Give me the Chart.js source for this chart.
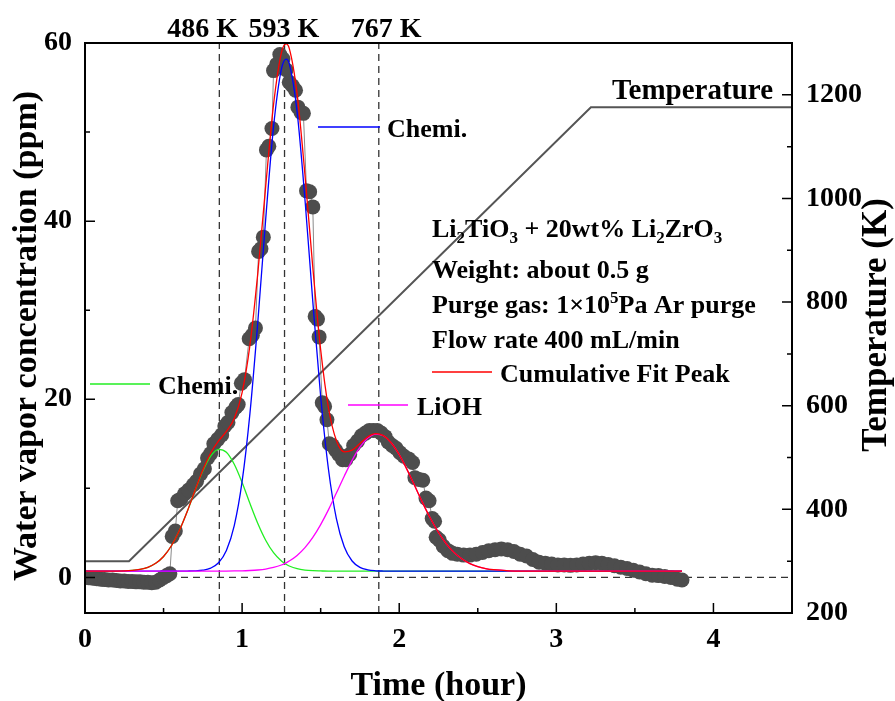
<!DOCTYPE html>
<html>
<head>
<meta charset="utf-8">
<script src="https://cdn.jsdelivr.net/npm/chart.js@4.4.0/dist/chart.umd.min.js"></script>
<style>
  html, body { margin: 0; padding: 0; background: #fff; }
  canvas { display: block; }
</style>
</head>
<body>
<canvas id="tpdChart" width="895" height="701"></canvas>
<script>
// measured water vapor (time in hour, concentration in ppm)
const measuredTime = [
  0, 0.025, 0.05, 0.075, 0.1, 0.125, 0.15, 0.175, 0.2, 0.225, 0.25, 0.275, 0.3, 0.325, 0.35, 0.375,
  0.4, 0.425, 0.45, 0.475, 0.5, 0.52, 0.54,
  0.555, 0.575, 0.59, 0.61, 0.635, 0.66, 0.69, 0.71, 0.735, 0.76, 0.78, 0.8, 0.82, 0.845, 0.87,
  0.89, 0.91, 0.935, 0.96, 0.975, 0.995, 1.015,
  1.045, 1.065, 1.085, 1.105, 1.12, 1.135, 1.155, 1.17, 1.19, 1.2, 1.22, 1.24, 1.26, 1.28, 1.3,
  1.32, 1.34, 1.355, 1.375, 1.39, 1.41, 1.43, 1.45, 1.465, 1.48, 1.49, 1.51, 1.525, 1.54, 1.555,
  1.575, 1.595, 1.615, 1.64, 1.66, 1.685, 1.71, 1.735, 1.76, 1.785, 1.81, 1.835, 1.86, 1.885,
  1.91, 1.93, 1.955, 1.98, 2.005, 2.03, 2.06, 2.085, 2.1, 2.125, 2.15, 2.17, 2.19, 2.21, 2.225,
  2.235, 2.255, 2.28, 2.31, 2.34, 2.37, 2.41, 2.45, 2.49, 2.53, 2.57, 2.61, 2.65, 2.69, 2.73,
  2.77, 2.81, 2.85, 2.89, 2.93, 2.97, 3.01, 3.05, 3.09, 3.13, 3.17, 3.21, 3.25, 3.29, 3.33,
  3.37, 3.41, 3.45, 3.49, 3.53, 3.57, 3.61, 3.65, 3.69, 3.73, 3.77, 3.8
];
const measuredPpm = [
  0.0, -0.05, -0.1, -0.15, -0.2, -0.25, -0.3, -0.3, -0.35, -0.4, -0.4, -0.45, -0.45, -0.5, -0.5, -0.55,
  -0.55, -0.6, -0.55, -0.3, 0.0, 0.2, 0.4,
  4.6, 5.2, 8.6, 8.8, 9.4, 9.8, 10.4, 10.8, 11.6, 12.2, 13.4, 13.9, 15.0, 15.5, 16.0,
  17.0, 17.4, 18.5, 19.1, 19.4, 21.8, 22.2,
  26.8, 27.2, 28.0, 36.6, 36.9, 38.2, 48.0, 48.4, 50.4, 56.9, 57.6, 58.7, 58.2, 57.0, 55.6,
  55.2, 54.7, 52.8, 52.2, 52.1, 43.4, 43.3, 41.6, 29.3, 29.0, 27.0, 19.6, 19.2, 17.7, 15.0,
  14.8, 14.3, 13.8, 13.2, 13.2, 13.8, 14.8, 15.3, 15.9, 16.2, 16.5, 16.5, 16.5, 16.2,
  15.8, 15.2, 14.8, 14.5, 14.0, 13.6, 13.3, 12.9, 11.2, 11.0, 10.9, 8.9, 8.6, 6.6, 6.3,
  4.5, 4.2, 3.5, 3.0, 2.7, 2.6, 2.5, 2.5, 2.6, 2.8, 3.0, 3.1, 3.2, 3.1, 2.9,
  2.6, 2.4, 2.0, 1.7, 1.6, 1.5, 1.4, 1.4, 1.35, 1.4, 1.5, 1.6, 1.65, 1.6, 1.45,
  1.3, 1.15, 1.0, 0.8, 0.6, 0.4, 0.25, 0.2, 0.1, 0.0, -0.2, -0.3
];

// fitted peaks, read along the same time grid
const fitTime = [
  0, 0.2, 0.3, 0.35, 0.4, 0.45, 0.5, 0.55, 0.6, 0.65, 0.7, 0.75, 0.8, 0.85, 0.9, 0.95,
  1.0, 1.05, 1.1, 1.15, 1.2, 1.25, 1.28, 1.3, 1.35, 1.4, 1.45, 1.5, 1.55, 1.6, 1.65, 1.7,
  1.75, 1.8, 1.85, 1.9, 1.95, 2.0, 2.05, 2.1, 2.15, 2.2, 2.25, 2.3, 2.35, 2.4, 2.45, 2.5,
  2.55, 2.6, 2.7, 2.8, 3.0, 3.8
];
const fitChemiLow = [
  0.7, 0.71, 0.78, 0.9, 1.13, 1.58, 2.35, 3.55, 5.24, 7.36, 9.72, 11.94, 13.62, 14.38, 14.05, 12.7,
  10.65, 8.29, 6.05, 4.17, 2.77, 1.84, 1.47, 1.28, 0.97, 0.82, 0.75, 0.72, 0.7, 0.7, 0.7, 0.7,
  0.7, 0.7, 0.7, 0.7, 0.7, 0.7, 0.7, 0.7, 0.7, 0.7, 0.7, 0.7, 0.7, 0.7, 0.7, 0.7,
  0.7, 0.7, 0.7, 0.7, 0.7, 0.7
];
const fitChemiHigh = [
  0.7, 0.7, 0.7, 0.7, 0.7, 0.7, 0.7, 0.7, 0.7, 0.71, 0.73, 0.81, 1.04, 1.64, 3.02, 5.81,
  10.77, 18.44, 28.69, 40.2, 50.58, 57.06, 58.2, 57.69, 52.27, 42.45, 30.96, 20.31, 12.08, 6.6, 3.44, 1.84,
  1.12, 0.84, 0.74, 0.71, 0.7, 0.7, 0.7, 0.7, 0.7, 0.7, 0.7, 0.7, 0.7, 0.7, 0.7, 0.7,
  0.7, 0.7, 0.7, 0.7, 0.7, 0.7
];
const fitLiOH = [
  0.7, 0.7, 0.7, 0.7, 0.7, 0.7, 0.7, 0.7, 0.7, 0.7, 0.7, 0.7, 0.7, 0.7, 0.71, 0.72,
  0.73, 0.77, 0.83, 0.93, 1.11, 1.39, 1.63, 1.83, 2.46, 3.34, 4.49, 5.93, 7.61, 9.47, 11.36, 13.14,
  14.62, 15.64, 16.09, 15.9, 15.09, 13.78, 12.1, 10.23, 8.34, 6.58, 5.04, 3.77, 2.78, 2.06, 1.55, 1.21,
  0.99, 0.86, 0.74, 0.71, 0.7, 0.7
];
const fitCumulative = [
  0.7, 0.71, 0.78, 0.9, 1.13, 1.58, 2.35, 3.55, 5.24, 7.37, 9.75, 12.05, 13.96, 15.32, 16.38, 17.83,
  20.75, 26.1, 34.17, 43.9, 53.07, 58.89, 59.9, 59.4, 54.3, 45.21, 34.8, 25.56, 18.99, 15.37, 14.1, 14.28,
  15.04, 15.78, 16.13, 15.91, 15.09, 13.78, 12.1, 10.23, 8.34, 6.58, 5.04, 3.77, 2.78, 2.06, 1.55, 1.21,
  0.99, 0.86, 0.74, 0.71, 0.7, 0.7
];

// furnace temperature program
const tempTime = [0, 0.28, 3.22, 4.5];
const tempKelvin = [300, 300, 1176, 1176];

const peakTimes = [0.855, 1.27, 1.87];
const peakLabels = ["486 K", "593 K", "767 K"];

const timeTicks = [0, 1, 2, 3, 4];
const timeMinor = [0.5, 1.5, 2.5, 3.5, 4.5];
const ppmTicks = [0, 20, 40, 60];
const ppmMinor = [10, 30, 50];
const kelvinTicks = [200, 400, 600, 800, 1000, 1200];
const kelvinMinor = [300, 500, 700, 900, 1100, 1300];

const FAMILY = '"Liberation Serif", "Times New Roman", serif';
const GREEN = "#22ee22";
const BLUE = "#0000ff";
const MAGENTA = "#ff00ff";
const RED = "#ff0000";
const DOT = "#4d4d4d";
const DASH = "#333333";

const toPoints = (xs, ys) => xs.map((x, i) => ({ x: x, y: ys[i] }));

function fitLine(values, color) {
  return {
    data: toPoints(fitTime, values),
    borderColor: color,
    borderWidth: 1.3,
    pointRadius: 0,
    cubicInterpolationMode: "monotone",
    yAxisID: "y",
  };
}

function dashLine(points) {
  return {
    data: points,
    borderColor: DASH,
    borderWidth: 1.3,
    borderDash: [7, 5],
    pointRadius: 0,
    yAxisID: "y",
  };
}

function drawRich(ctx, parts, x, y, size) {
  let cx = x;
  parts.forEach((p) => {
    const small = p.sub || p.sup;
    const s = small ? Math.round(size * 0.65) : size;
    ctx.font = "bold " + s + "px " + FAMILY;
    const dy = p.sub ? size * 0.22 : p.sup ? -size * 0.38 : 0;
    ctx.fillText(p.t, cx, y + dy);
    cx += ctx.measureText(p.t).width;
  });
}

const infoLines = [
  [{ t: "Li" }, { t: "2", sub: 1 }, { t: "TiO" }, { t: "3", sub: 1 }, { t: " + 20wt% Li" },
   { t: "2", sub: 1 }, { t: "ZrO" }, { t: "3", sub: 1 }],
  [{ t: "Weight: about 0.5 g" }],
  [{ t: "Purge gas: 1\u00d710" }, { t: "5", sup: 1 }, { t: "Pa Ar purge" }],
  [{ t: "Flow rate 400 mL/min" }],
];

const decorations = {
  id: "decorations",
  afterDatasetsDraw(chart) {
    const ctx = chart.ctx;
    const a = chart.chartArea;
    const sx = chart.scales.x;
    const sy = chart.scales.y;
    const sy2 = chart.scales.y2;
    ctx.save();

    // frame
    ctx.strokeStyle = "#000";
    ctx.lineWidth = 2;
    ctx.strokeRect(a.left, a.top, a.right - a.left, a.bottom - a.top);

    // inward ticks
    ctx.lineWidth = 1.5;
    ctx.beginPath();
    timeTicks.forEach((v) => { const p = sx.getPixelForValue(v); ctx.moveTo(p, a.bottom); ctx.lineTo(p, a.bottom - 10); });
    timeMinor.forEach((v) => { const p = sx.getPixelForValue(v); ctx.moveTo(p, a.bottom); ctx.lineTo(p, a.bottom - 5); });
    ppmTicks.forEach((v) => { const p = sy.getPixelForValue(v); ctx.moveTo(a.left, p); ctx.lineTo(a.left + 10, p); });
    ppmMinor.forEach((v) => { const p = sy.getPixelForValue(v); ctx.moveTo(a.left, p); ctx.lineTo(a.left + 5, p); });
    kelvinTicks.forEach((v) => { const p = sy2.getPixelForValue(v); ctx.moveTo(a.right, p); ctx.lineTo(a.right - 10, p); });
    kelvinMinor.forEach((v) => { const p = sy2.getPixelForValue(v); ctx.moveTo(a.right, p); ctx.lineTo(a.right - 5, p); });
    ctx.stroke();

    ctx.fillStyle = "#000";
    ctx.textBaseline = "alphabetic";

    // axis titles
    ctx.font = "bold 34px " + FAMILY;
    ctx.textAlign = "center";
    ctx.fillText("Time (hour)", (a.left + a.right) / 2, 695);
    ctx.save();
    ctx.translate(36, 336);
    ctx.rotate(-Math.PI / 2);
    ctx.fillText("Water vapor concentration (ppm)", 0, 0);
    ctx.restore();
    ctx.save();
    ctx.translate(886, 325);
    ctx.rotate(-Math.PI / 2);
    ctx.font = "bold 35px " + FAMILY;
    ctx.fillText("Temperature (K)", 0, 0);
    ctx.restore();

    // peak temperatures above the frame
    ctx.font = "bold 28px " + FAMILY;
    ctx.textAlign = "left";
    const labelShift = [-52, -36, -28];
    peakTimes.forEach((t, i) => {
      ctx.fillText(peakLabels[i], sx.getPixelForValue(t) + labelShift[i], 37);
    });

    // temperature curve label
    ctx.textAlign = "right";
    ctx.font = "bold 29px " + FAMILY;
    ctx.fillText("Temperature", 773, 99);

    // peak legends
    ctx.textAlign = "left";
    ctx.font = "bold 26px " + FAMILY;
    const keys = [
      { label: "Chemi.", color: GREEN, x0: 90, x1: 150, y: 384, tx: 158 },
      { label: "Chemi.", color: BLUE, x0: 318, x1: 380, y: 127, tx: 387 },
      { label: "LiOH", color: MAGENTA, x0: 348, x1: 408, y: 405, tx: 417 },
      { label: "Cumulative Fit Peak", color: RED, x0: 432, x1: 492, y: 372, tx: 500 },
    ];
    keys.forEach((k) => {
      ctx.strokeStyle = k.color;
      ctx.lineWidth = 1.3;
      ctx.beginPath();
      ctx.moveTo(k.x0, k.y);
      ctx.lineTo(k.x1, k.y);
      ctx.stroke();
      ctx.fillText(k.label, k.tx, k.y + 9.5);
    });

    // sample information
    const baselines = [237, 278, 313, 348];
    infoLines.forEach((parts, i) => drawRich(ctx, parts, 432, baselines[i], 26));

    ctx.restore();
  },
};

const tickFont = { family: FAMILY, size: 28, weight: "bold" };
const plainLabel = (v) => String(v);

new Chart(document.getElementById("tpdChart"), {
  type: "line",
  data: {
    datasets: [
      fitLine(fitCumulative, RED),
      fitLine(fitLiOH, MAGENTA),
      fitLine(fitChemiHigh, BLUE),
      fitLine(fitChemiLow, GREEN),
      {
        data: toPoints(tempTime, tempKelvin),
        borderColor: "#555555",
        borderWidth: 2,
        pointRadius: 0,
        yAxisID: "y2",
      },
      {
        data: toPoints(measuredTime, measuredPpm),
        borderColor: "#8a8a8a",
        borderWidth: 1,
        pointRadius: 7.5,
        pointBackgroundColor: DOT,
        pointBorderWidth: 0,
        yAxisID: "y",
      },
      dashLine([{ x: 0, y: 0 }, { x: 4.5, y: 0 }]),
      ...peakTimes.map((t) => dashLine([{ x: t, y: -4 }, { x: t, y: 60 }])),
    ],
  },
  options: {
    responsive: false,
    animation: false,
    events: [],
    layout: { padding: { top: 43, left: 0, right: 0, bottom: 0 } },
    plugins: { legend: { display: false }, tooltip: { enabled: false } },
    scales: {
      x: {
        type: "linear",
        min: 0,
        max: 4.5,
        afterBuildTicks: (s) => { s.ticks = timeTicks.map((v) => ({ value: v })); },
        afterFit: (s) => { s.height = 88; },
        ticks: { font: tickFont, color: "#000", padding: 10, autoSkip: false, maxRotation: 0, callback: plainLabel },
        grid: { display: false, drawTicks: false },
        border: { display: false },
      },
      y: {
        position: "left",
        min: -4,
        max: 60,
        afterBuildTicks: (s) => { s.ticks = ppmTicks.map((v) => ({ value: v })); },
        afterFit: (s) => { s.width = 85; },
        ticks: { font: tickFont, color: "#000", padding: 13, autoSkip: false, callback: plainLabel },
        grid: { display: false, drawTicks: false },
        border: { display: false },
      },
      y2: {
        position: "right",
        min: 200,
        max: 1300,
        afterBuildTicks: (s) => { s.ticks = kelvinTicks.map((v) => ({ value: v })); },
        afterFit: (s) => { s.width = 103; },
        ticks: { font: tickFont, color: "#000", padding: 14, autoSkip: false, callback: plainLabel },
        grid: { display: false, drawTicks: false },
        border: { display: false },
      },
    },
  },
  plugins: [decorations],
});
</script>
</body>
</html>
